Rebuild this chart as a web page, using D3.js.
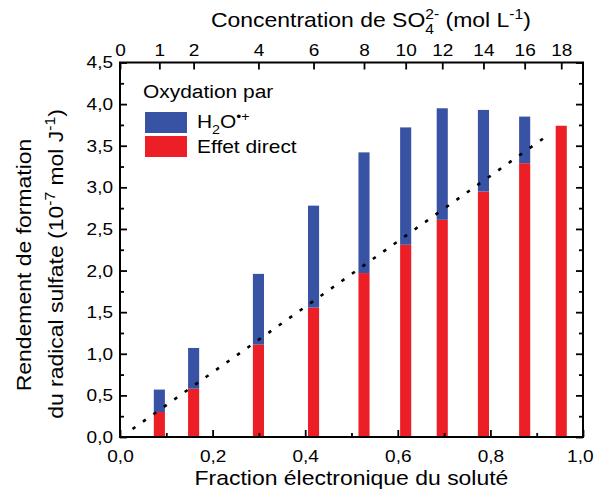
<!DOCTYPE html>
<html>
<head>
<meta charset="utf-8">
<script src="https://cdn.jsdelivr.net/npm/d3@7"></script>
<style>
body { margin: 0; background: #fff; }
text { font-family: "Liberation Sans", Arial, sans-serif; fill: #000; }
</style>
</head>
<body>
<div id="chart"></div>
<script>
// bar positions (electron fraction of solute) and matching SO4 concentrations
var fraction = [0.085, 0.159, 0.299, 0.418, 0.527, 0.617, 0.696, 0.785, 0.874, 0.953];
var concentration = [1, 2, 4, 6, 8, 10, 12, 14, 16, 18];
// yields, 10^-7 mol/J
var directYield = [0.30, 0.58, 1.11, 1.555, 1.97, 2.31, 2.61, 2.95, 3.29, 3.74];
var totalYield = [0.57, 1.07, 1.96, 2.78, 3.42, 3.72, 3.95, 3.93, 3.85, 3.74];
// dotted guide line
var lineFraction = [0.027, 0.929];
var lineYield = [0.096, 3.645];

var xTicks = [0, 0.2, 0.4, 0.6, 0.8, 1.0];
var xMinor = [0.1, 0.3, 0.5, 0.7, 0.9];
var yTicks = [0, 0.5, 1, 1.5, 2, 2.5, 3, 3.5, 4, 4.5];
var yMinor = [0.25, 0.75, 1.25, 1.75, 2.25, 2.75, 3.25, 3.75, 4.25];
var topTicks = [0].concat(fraction);
var topLabels = [0].concat(concentration);

var blue = "#3953a4", red = "#ed1f26";
var sx = 1.12; // glyphs in the original are a bit wide

var W = 595, H = 491;
var m = {top: 62.5, right: 12, bottom: 54, left: 120};

var svg = d3.select("#chart").append("svg")
  .attr("width", W).attr("height", H);

var x = d3.scaleLinear().domain([0, 1]).range([m.left, W - m.right]);
var y = d3.scaleLinear().domain([0, 4.5]).range([H - m.bottom, m.top]);

var fmt = function(d) { return d3.format(".1f")(d).replace(".", ","); };

function stretch(sel) {
  sel.each(function() {
    var t = d3.select(this);
    var ox = +t.attr("x") || 0;
    t.attr("x", ox / sx).attr("transform", "scale(" + sx + ",1)");
  });
}

// bars
var bw = x(0.024) - x(0);
var bars = fraction.map(function(f, i) {
  return {f: f, d: directYield[i], t: totalYield[i]};
});
var gb = svg.append("g");
gb.selectAll("rect.red").data(bars).enter().append("rect")
  .attr("x", function(d) { return x(d.f) - bw / 2; })
  .attr("y", function(d) { return y(d.d); })
  .attr("width", bw)
  .attr("height", function(d) { return y(0) - y(d.d); })
  .attr("fill", red);
gb.selectAll("rect.blue").data(bars.filter(function(d) { return d.t > d.d; })).enter().append("rect")
  .attr("x", function(d) { return x(d.f) - bw / 2; })
  .attr("y", function(d) { return y(d.t); })
  .attr("width", bw)
  .attr("height", function(d) { return y(d.d) - y(d.t); })
  .attr("fill", blue);

// dotted line
svg.append("path")
  .datum(lineFraction.map(function(f, i) { return [f, lineYield[i]]; }))
  .attr("d", d3.line().x(function(d) { return x(d[0]); }).y(function(d) { return y(d[1]); }))
  .attr("fill", "none").attr("stroke", "#000")
  .attr("stroke-width", 2.6).attr("stroke-dasharray", "3.5 9.3");

// axes
function axisStyle(g) {
  g.select(".domain").remove();
  g.selectAll(".tick line").attr("stroke", "#000").attr("stroke-width", 1.8);
  g.selectAll(".tick text").style("font-size", "17px");
}

var gx = svg.append("g").attr("transform", "translate(0," + y(0) + ")")
  .call(d3.axisBottom(x).tickValues(xTicks).tickFormat(fmt)
    .tickSizeInner(-7).tickSizeOuter(0).tickPadding(13))
  .call(axisStyle);
stretch(gx.selectAll(".tick text"));
// last label pulled in so it stays on the page
gx.selectAll(".tick text").filter(function(d) { return d === 1; })
  .attr("text-anchor", "end").attr("x", 10 / sx);
svg.append("g").attr("transform", "translate(0," + y(0) + ")")
  .call(d3.axisBottom(x).tickValues(xMinor).tickFormat("").tickSizeInner(-4).tickSizeOuter(0))
  .call(axisStyle);

var gy = svg.append("g").attr("transform", "translate(" + x(0) + ",0)")
  .call(d3.axisLeft(y).tickValues(yTicks).tickFormat(fmt)
    .tickSizeInner(-7).tickSizeOuter(0).tickPadding(7))
  .call(axisStyle);
stretch(gy.selectAll(".tick text"));
svg.append("g").attr("transform", "translate(" + x(0) + ",0)")
  .call(d3.axisLeft(y).tickValues(yMinor).tickFormat("").tickSizeInner(-4).tickSizeOuter(0))
  .call(axisStyle);

svg.append("g").attr("transform", "translate(" + x(1) + ",0)")
  .call(d3.axisRight(y).tickValues(yTicks).tickFormat("").tickSizeInner(-7).tickSizeOuter(0))
  .call(axisStyle);
svg.append("g").attr("transform", "translate(" + x(1) + ",0)")
  .call(d3.axisRight(y).tickValues(yMinor).tickFormat("").tickSizeInner(-4).tickSizeOuter(0))
  .call(axisStyle);

var gt = svg.append("g").attr("transform", "translate(0," + y(4.5) + ")")
  .call(d3.axisTop(x).tickValues(topTicks)
    .tickFormat(function(d, i) { return topLabels[i]; })
    .tickSizeInner(-7).tickSizeOuter(0).tickPadding(6.5))
  .call(axisStyle);
stretch(gt.selectAll(".tick text"));

// frame
svg.append("rect")
  .attr("x", x(0)).attr("y", y(4.5))
  .attr("width", x(1) - x(0)).attr("height", y(0) - y(4.5))
  .attr("fill", "none").attr("stroke", "#000").attr("stroke-width", 2);

// rich text helper: parts = [[text, kind]] kind: "", "sup", "sub", "stack" (sup over sub)
function richText(parent, px, py, size, parts) {
  var t = parent.append("text")
    .attr("x", px / sx).attr("y", py)
    .attr("transform", "scale(" + sx + ",1)")
    .style("font-size", size + "px");
  var small = size * 0.68;
  var shift = 0, pendingDx = 0;
  parts.forEach(function(p) {
    if (p[1] === "stack") {
      var a = t.append("tspan").text(p[0]).style("font-size", small + "px")
        .attr("dy", -size * 0.4 - shift);
      if (pendingDx) a.attr("dx", pendingDx);
      var aw = a.node().getComputedTextLength();
      var b = t.append("tspan").text(p[2]).style("font-size", small + "px")
        .attr("dx", -aw).attr("dy", size * 0.72);
      var bw2 = b.node().getComputedTextLength();
      shift = size * 0.32;
      pendingDx = aw - bw2;
      return;
    }
    var s = t.append("tspan").text(p[0]);
    var target = 0;
    if (p[1] === "sup") { target = -size * 0.4; s.style("font-size", small + "px"); }
    if (p[1] === "sub") { target = size * 0.3; s.style("font-size", small + "px"); }
    s.attr("dy", target - shift);
    if (pendingDx) s.attr("dx", pendingDx);
    pendingDx = 0;
    shift = target;
  });
  return t;
}

// top title
richText(svg, 211, 27, 20.5, [["Concentration de SO", ""], ["2-", "stack", "4"], [" (mol L", ""], ["-1", "sup"], [")", ""]]);

// x title
svg.append("text")
  .attr("x", ((x(0) + x(1)) / 2) / sx).attr("y", 485)
  .attr("transform", "scale(" + sx + ",1)")
  .attr("text-anchor", "middle").style("font-size", "20.5px")
  .text("Fraction électronique du soluté");

// y title, two lines
var gl1 = svg.append("g").attr("transform", "translate(31,265) rotate(-90)");
gl1.append("text").attr("text-anchor", "middle")
  .attr("transform", "scale(" + sx + ",1)")
  .style("font-size", "20.5px").text("Rendement de formation");
var gl2 = svg.append("g").attr("transform", "translate(63,264) rotate(-90)");
var yl2 = richText(gl2, 0, 0, 20.5, [["du radical sulfate (10", ""], ["-7", "sup"], [" mol J", ""], ["-1", "sup"], [")", ""]]);
yl2.attr("text-anchor", "middle");

// legend
var lg = svg.append("g");
richText(lg, 143, 98, 18.7, [["Oxydation par", ""]]);
lg.append("rect").attr("x", 145).attr("y", 112).attr("width", 42).attr("height", 21).attr("fill", blue);
lg.append("rect").attr("x", 145).attr("y", 136).attr("width", 42).attr("height", 21).attr("fill", red);
richText(lg, 197, 128, 18.7, [["H", ""], ["2", "sub"], ["O", ""], ["•+", "sup"]]);
richText(lg, 197, 153, 18.7, [["Effet direct", ""]]);
</script>
</body>
</html>
